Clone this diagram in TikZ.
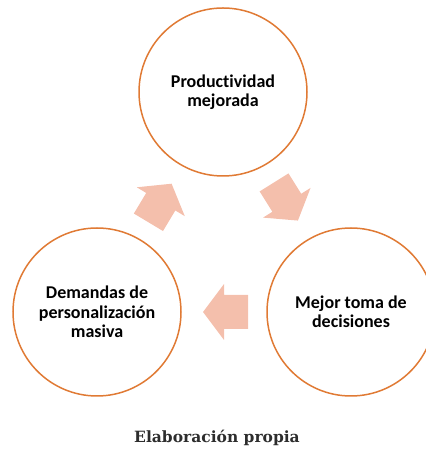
\documentclass[tikz,border=0pt]{standalone}
\usepackage{fontspec}
\setmainfont{Carlito}[Ligatures=NoCommon]
\newfontfamily\captionfont{DejaVu Serif}
\usepackage{xcolor}

\definecolor{ringorange}{RGB}{224,122,52}
\definecolor{arrowpink}{RGB}{244,191,172}
\definecolor{captiongray}{RGB}{45,45,45}

% block arrow: #1 centre, #2 angle
\newcommand{\blockarrow}[2]{%
  \fill[arrowpink, shift={#1}, rotate=#2]
    (-22.5,-17) -- (1.5,-17) -- (1.5,-28) -- (22.5,0)
    -- (1.5,28) -- (1.5,17) -- (-22.5,17) -- cycle;}

\begin{document}
\begin{tikzpicture}[x=1pt,y=1pt,
  ring/.style={circle, draw=ringorange, line width=1.5pt, fill=white,
    minimum size=168pt, inner sep=0pt, align=center,
    font=\fontsize{18}{19.5}\selectfont\bfseries}]
\useasboundingbox (0,0) rectangle (425,449);

% Circles
\node[ring] (prod) at (223,357) {Productividad\\mejorada};
\node[ring] (dem) at (97,137) {Demandas de\\personalización\\masiva};
\node[ring] (dec) at (351,137) {Mejor toma de\\decisiones};

% Arrows
\blockarrow{(286,247.5)}{-58}
\blockarrow{(225.5,137)}{180}
\blockarrow{(160,246)}{59}

% Caption
\node[anchor=base, text=captiongray, font=\captionfont\fontsize{15.5}{18}\selectfont\bfseries] (cap) at (217,6) {Elaboración propia};
\end{tikzpicture}
\end{document}
